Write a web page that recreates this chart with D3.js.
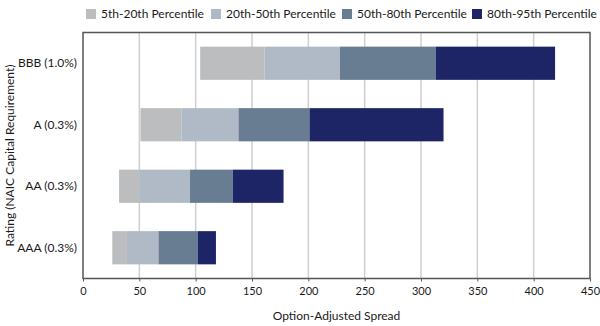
<!DOCTYPE html>
<html lang="en">
<head>
  <meta charset="UTF-8">
  <title>Option-Adjusted Spread by Rating</title>
  <style>
    body {
      margin: 0;
      background-color: white;
    }

    #chart text {
      font-family: Lato, "Liberation Sans", Arial, sans-serif;
      font-size: 12px;
      fill: #1a1a1a;
    }

    #chart .x-axis text {
      font-size: 11px;
    }

    .grid line {
      stroke: #cfcfcf;
      stroke-width: 1.5;
    }

    .frame {
      fill: none;
      stroke: #555;
      stroke-width: 1.5;
    }
  </style>
</head>
<body>
  <svg id="chart" width="600" height="326"></svg>

  <script src="https://cdnjs.cloudflare.com/ajax/libs/d3/7.8.5/d3.min.js"></script>
  <script>
    // ratings, top to bottom
    var categories = ["BBB (1.0%)", "A (0.3%)", "AA (0.3%)", "AAA (0.3%)"];
    // percentile values for each rating (option-adjusted spread)
    var p5  = [104, 51, 32, 26];
    var p20 = [161, 87.5, 50, 39];
    var p50 = [228, 138, 95, 67];
    var p80 = [313, 201, 133, 102];
    var p95 = [419, 320, 178, 118];

    var seriesNames = ["5th-20th Percentile", "20th-50th Percentile", "50th-80th Percentile", "80th-95th Percentile"];
    var seriesColors = ["#bcbdbf", "#b0bac6", "#687c92", "#1e2566"];
    var xTicks = [0, 50, 100, 150, 200, 250, 300, 350, 400, 450];

    (function() {
      var plotLeft = 83, plotRight = 590, plotTop = 32.5, plotBottom = 278.5;

      var chart = d3.select("#chart");

      var x = d3.scaleLinear().domain([0, 450]).range([plotLeft, plotRight]);
      var y = d3.scaleBand().domain(categories).range([plotTop, plotBottom]).paddingInner(0.46).paddingOuter(0.23);

      // gridlines
      chart.append("g")
        .attr("class", "grid")
        .selectAll("line")
        .data(xTicks.slice(1, -1))
        .enter().append("line")
        .attr("x1", function(d) { return x(d); })
        .attr("x2", function(d) { return x(d); })
        .attr("y1", plotTop)
        .attr("y2", plotBottom);

      // build segments [start, end] per series
      var bounds = [p5, p20, p50, p80, p95];
      var segments = [];
      for (var s = 0; s < 4; s++) {
        for (var i = 0; i < categories.length; i++) {
          segments.push({ s: s, cat: categories[i], x0: bounds[s][i], x1: bounds[s + 1][i] });
        }
      }

      chart.append("g")
        .selectAll("rect")
        .data(segments)
        .enter().append("rect")
        .attr("x", function(d) { return x(d.x0); })
        .attr("y", function(d) { return y(d.cat); })
        .attr("width", function(d) { return x(d.x1) - x(d.x0); })
        .attr("height", y.bandwidth())
        .attr("fill", function(d) { return seriesColors[d.s]; });

      // frame
      chart.append("rect")
        .attr("class", "frame")
        .attr("x", plotLeft)
        .attr("y", plotTop)
        .attr("width", plotRight - plotLeft)
        .attr("height", plotBottom - plotTop);

      // x axis
      var xAxis = chart.append("g")
        .attr("class", "x-axis")
        .attr("transform", "translate(0," + plotBottom + ")")
        .call(d3.axisBottom(x).tickValues(xTicks).tickSize(3).tickPadding(6));
      xAxis.select(".domain").remove();
      xAxis.selectAll("line").attr("stroke", "#555");

      // y axis labels
      var yAxis = chart.append("g")
        .attr("transform", "translate(" + plotLeft + ",0)")
        .call(d3.axisLeft(y).tickSize(0).tickPadding(6));
      yAxis.select(".domain").remove();

      // axis titles
      chart.append("text")
        .attr("x", (plotLeft + plotRight) / 2)
        .attr("y", 320)
        .attr("text-anchor", "middle")
        .text("Option-Adjusted Spread");

      chart.append("text")
        .attr("transform", "translate(14," + (plotTop + plotBottom) / 2 + ") rotate(-90)")
        .attr("text-anchor", "middle")
        .text("Rating (NAIC Capital Requirement)");

      // legend
      var legendX = [86, 211, 342, 472];
      var legend = chart.append("g")
        .selectAll("g")
        .data(seriesNames)
        .enter().append("g")
        .attr("transform", function(d, i) { return "translate(" + legendX[i] + ",9)"; });

      legend.append("rect")
        .attr("width", 10)
        .attr("height", 10)
        .attr("fill", function(d, i) { return seriesColors[i]; });

      legend.append("text")
        .attr("x", 15)
        .attr("y", 5)
        .attr("dy", "0.35em")
        .text(function(d) { return d; });
    })();
  </script>
</body>
</html>
